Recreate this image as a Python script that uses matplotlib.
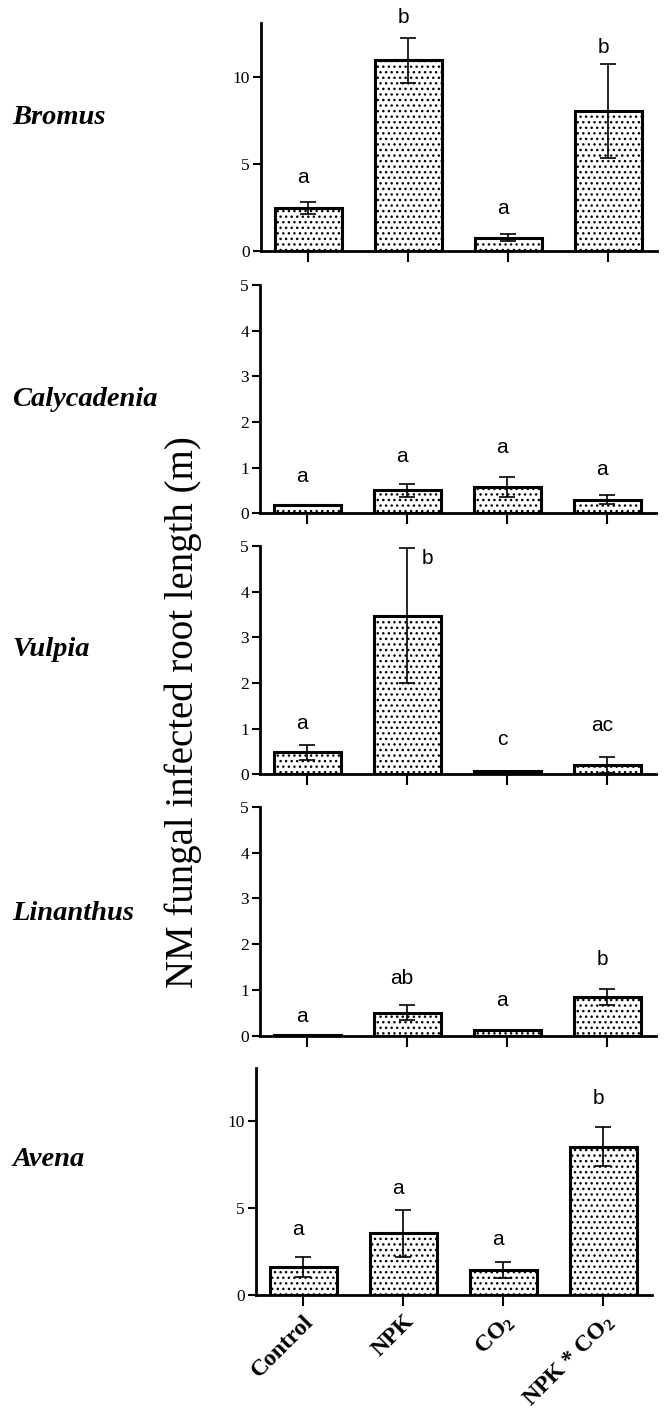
#!/usr/bin/env python3

import numpy as np
import matplotlib
matplotlib.use('Agg')
import matplotlib.pyplot as plt

plt.rcParams['mathtext.fontset'] = 'custom'
plt.rcParams['mathtext.rm'] = 'Liberation Serif:bold'
plt.rcParams['mathtext.default'] = 'rm'
plt.rcParams['hatch.linewidth'] = 1.0

treatments = ['Control', 'NPK', 'CO$_2$', 'NPK * CO$_2$']
species = ['Bromus', 'Calycadenia', 'Vulpia', 'Linanthus', 'Avena']

# means and standard errors
bromus_mean = [2.45, 10.95, 0.75, 8.05]
bromus_err = [0.35, 1.3, 0.2, 2.7]
calyc_mean = [0.18, 0.5, 0.57, 0.3]
calyc_err = [0.0, 0.14, 0.22, 0.1]
vulpia_mean = [0.48, 3.47, 0.08, 0.2]
vulpia_err = [0.17, 1.48, 0.0, 0.17]
linan_mean = [0.02, 0.5, 0.12, 0.85]
linan_err = [0.0, 0.16, 0.0, 0.17]
avena_mean = [1.6, 3.55, 1.44, 8.52]
avena_err = [0.57, 1.34, 0.48, 1.12]

bromus_letters = ['a', 'b', 'a', 'b']
calyc_letters = ['a', 'a', 'a', 'a']
vulpia_letters = ['a', 'b', 'c', 'ac']
linan_letters = ['a', 'ab', 'a', 'b']
avena_letters = ['a', 'a', 'a', 'b']

# where the letters sit (data units)
bromus_lpos = [4.25, 13.4, 2.47, 11.7]
calyc_lpos = [0.8, 1.25, 1.44, 0.96]
vulpia_lpos = [1.12, 4.73, 0.77, 1.06]
linan_lpos = [0.43, 1.25, 0.76, 1.67]
avena_lpos = [3.78, 6.13, 3.2, 11.3]

panels = [
    (bromus_mean, bromus_err, bromus_letters, bromus_lpos, 13.1, [0, 5, 10]),
    (calyc_mean, calyc_err, calyc_letters, calyc_lpos, 5, [0, 1, 2, 3, 4, 5]),
    (vulpia_mean, vulpia_err, vulpia_letters, vulpia_lpos, 5, [0, 1, 2, 3, 4, 5]),
    (linan_mean, linan_err, linan_letters, linan_lpos, 5, [0, 1, 2, 3, 4, 5]),
    (avena_mean, avena_err, avena_letters, avena_lpos, 13.05, [0, 5, 10]),
]

W, H = 666., 1409.
# left, bottom(px from top), top(px from top)
boxes = [(261, 251, 23), (260, 513.3, 285), (260, 774.3, 546),
         (260, 1035.7, 806.7), (256, 1295, 1068)]
label_y = [117, 399, 650, 913, 1160]

fig = plt.figure(figsize=(6.66, 14.09), dpi=100)

x = np.arange(4)
for i, (mean, err, lets, lpos, top, ticks) in enumerate(panels):
    l, b, t = boxes[i]
    ax = fig.add_axes([l/W, 1 - b/H, 396/W, (b - t)/H])
    ax.bar(x, mean, width=0.67, color='white', edgecolor='black',
           hatch='...', linewidth=2.2)
    ax.errorbar(x, mean, yerr=err, fmt='none', ecolor='black',
                elinewidth=1.2, capsize=6, capthick=1.2)
    for j in range(4):
        ax.text(x[j] - 0.05 if lets[j] != 'b' or i != 2 else x[j] + 0.2,
                lpos[j], lets[j], ha='center', va='center',
                fontsize=15, family='Liberation Sans')
    ax.set_xlim(-0.47, 3.49)
    ax.set_ylim(0, top)
    ax.set_yticks(ticks)
    for s in ['top', 'right']:
        ax.spines[s].set_visible(False)
    ax.spines['left'].set_linewidth(2)
    ax.spines['bottom'].set_linewidth(2)
    ax.tick_params(axis='y', direction='out', length=6, width=1.5,
                   labelsize=12.5, pad=2)
    ax.tick_params(axis='x', direction='out', length=8, width=1.5)
    for lab in ax.get_yticklabels():
        lab.set_family('Liberation Serif')
    ax.set_xticks(x)
    if i == 4:
        ax.set_xticklabels(treatments, rotation=45, ha='right',
                           rotation_mode='anchor', fontsize=17,
                           family='Liberation Serif', fontweight='bold')
    else:
        ax.set_xticklabels([])
    fig.text(12/W, 1 - label_y[i]/H, species[i], ha='left', va='center',
             fontsize=20.5, family='Liberation Serif', fontweight='bold',
             style='italic')

fig.text(183/W, 1 - 712/H, 'NM fungal infected root length (m)',
         rotation=90, ha='center', va='center', fontsize=28,
         family='Liberation Serif')

fig.savefig('out.png', dpi=100)
